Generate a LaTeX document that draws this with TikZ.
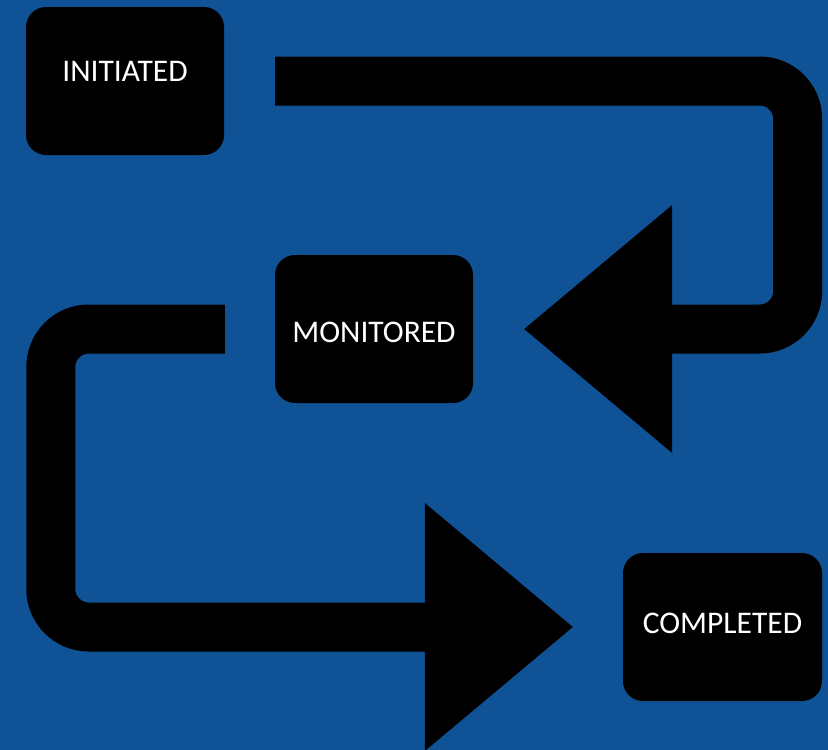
\documentclass[tikz,border=0pt]{standalone}
\usepackage{fontspec}
\setmainfont{Carlito}
\usetikzlibrary{arrows.meta}
\definecolor{slideblue}{RGB}{16,82,150}

\begin{document}
\begin{tikzpicture}[x=1pt,y=-1pt,
		state/.style = {rectangle,rounded corners=20pt,fill=black,text=white,
			minimum width=198pt,minimum height=148pt,inner sep=0pt,
			font=\fontsize{31.5}{36}\selectfont},
		flow/.style = {draw=black,line width=49pt,rounded corners=38pt,
			-{Triangle[length=148pt,width=248pt,line width=0pt]}}]
		
		\fill[slideblue] (0,0) rectangle (828,750);
		\useasboundingbox (0,0) rectangle (828,750);
		
		\node[state,text depth=20pt] (init) at (125,81) {INITIATED};
		\node[state,text height=28pt] (mon) at (374,329) {MONITORED};
		\node[state,minimum width=199pt,text depth=8pt] (done) at (722.5,627) {COMPLETED};
		
		\draw[flow] ([xshift=51pt]init.east) -- ++(522.5,0) |- ([xshift=51pt]mon.east);
		\draw[flow] ([xshift=-50pt]mon.west) -- ++(-174,0) |- ([xshift=-50pt]done.west);
		\end{tikzpicture}
\end{document}
